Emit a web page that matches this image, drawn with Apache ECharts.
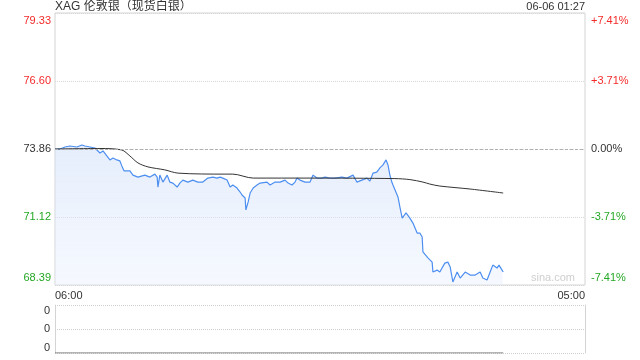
<!DOCTYPE html>
<html>
<head>
<meta charset="utf-8">
<script src="https://cdn.jsdelivr.net/npm/echarts@6/dist/echarts.min.js"></script>
<style>html,body{margin:0;padding:0;background:#fff}#c{width:640px;height:360px}</style>
</head>
<body>
<div id="c"></div>
<script>
const titleText = 'XAG 伦敦银（现货白银）';
const stampText = '06-06 01:27';
const prevClose = 73.86;
const yMin = 68.39, yMax = 79.33;
const leftLabels = ['68.39', '71.12', '73.86', '76.60', '79.33'];
const rightLabels = ['-7.41%', '-3.71%', '0.00%', '+3.71%', '+7.41%'];
const xLabels = ['06:00', '05:00'];
const volLabels = ['0', '0', '0'];

const times = [
  '06:00','06:13','06:26','06:39','06:57','07:10','07:18','07:31','07:44','07:49',
  '07:57','08:05','08:15','08:23','08:31','08:41','08:49','08:54','09:00','09:05',
  '09:15','09:23','09:28','09:36','09:54','10:07','10:20','10:26','10:28','10:33',
  '10:41','10:52','10:59','11:07','11:18','11:25','11:33','11:46','11:59','12:12',
  '12:25','12:38','12:51','13:02','13:10','13:17','13:28','13:36','13:43','13:54',
  '14:02','14:07','14:15','14:17','14:23','14:28','14:36','14:46','14:54','15:12',
  '15:20','15:33','15:46','15:59','16:07','16:17','16:25','16:30','16:38','16:51',
  '17:04','17:12','17:22','17:35','17:43','17:56','18:09','18:27','18:40','18:56',
  '19:06','19:19','19:32','19:40','19:48','19:58','20:06','20:14','20:22','20:27',
  '20:32','20:37','20:40','20:45','20:53','20:58','21:04','21:14','21:24','21:32',
  '21:43','21:50','21:56','21:58','22:11','22:22','22:24','22:35','22:42','22:55',
  '23:03','23:09','23:16','23:27','23:35','23:48','00:01','00:14','00:27','00:34',
  '00:45','00:53','01:00','01:11','01:16','01:24','01:27'
];
const prices = [
  73.86,73.86,73.94,73.98,73.94,74.02,73.98,73.94,73.90,73.82,
  73.70,73.78,73.58,73.42,73.50,73.42,73.38,73.18,72.98,73.02,
  72.98,72.81,72.77,72.73,72.81,72.73,72.85,72.73,72.33,72.81,
  72.53,72.81,72.53,72.49,72.33,72.49,72.61,72.53,72.61,72.53,
  72.53,72.69,72.73,72.69,72.73,72.69,72.61,72.33,72.41,72.29,
  72.13,72.01,71.89,71.41,71.73,72.09,72.29,72.41,72.49,72.53,
  72.41,72.53,72.53,72.61,72.49,72.41,72.53,72.69,72.61,72.53,
  72.53,72.81,72.69,72.69,72.73,72.69,72.69,72.73,72.69,72.81,
  72.53,72.61,72.69,72.57,72.89,72.93,73.10,73.22,73.42,73.22,
  72.81,72.53,72.41,72.41,71.93,71.53,71.08,71.29,71.08,70.88,
  70.48,70.48,70.32,69.72,69.48,69.31,68.91,68.99,68.91,69.27,
  69.31,69.11,68.51,68.91,68.67,68.91,68.79,68.79,68.91,68.67,
  68.59,68.91,69.19,69.07,69.19,68.99,68.91
];
const avgTimes = ['06:00','07:57','08:54','09:15','09:36','10:02','10:46','11:20','13:23','13:43',
  '14:36','17:04','20:45','21:24','21:58','22:16','22:42','00:01','01:27'];
const avgPrices = [73.86,73.88,73.82,73.58,73.30,73.14,73.02,72.89,72.85,72.85,
  72.69,72.69,72.67,72.63,72.53,72.45,72.37,72.25,72.09];
const volumes = times.map(() => 0);

function toMin(t) {
  const [h, m] = t.split(':').map(Number);
  return ((h * 60 + m) - 360 + 1440) % 1440;
}
const priceData = times.map((t, i) => [toMin(t), prices[i]]);
const avgData = avgTimes.map((t, i) => [toMin(t), avgPrices[i]]);
const volData = times.map((t, i) => [toMin(t), volumes[i]]);

const RED = '#f42a2a', GREEN = '#25a825', GRAY = '#333';
const font = '"Liberation Sans", Arial, "Noto Sans CJK SC", sans-serif';
function labColor(i) { return i > 2 ? RED : (i < 2 ? GREEN : GRAY); }

const chart = echarts.init(document.getElementById('c'), null, {renderer: 'canvas'});
chart.setOption({
  animation: false,
  textStyle: {fontFamily: font},
  grid: [
    {left: 55, right: 55, top: 13, height: 272, show: true, borderColor: '#d4d4d4', borderWidth: 1, backgroundColor: 'transparent'},
    {left: 55, right: 55, top: 305, height: 48}
  ],
  xAxis: [
    {type: 'value', gridIndex: 0, min: 0, max: 1380, interval: 1380,
     axisLine: {show: false}, axisTick: {show: false}, splitLine: {show: false},
     axisLabel: {show: true, margin: 5, fontSize: 11, color: '#333', fontFamily: font,
       alignMinLabel: 'left', alignMaxLabel: 'right',
       formatter: (v) => v === 0 ? xLabels[0] : xLabels[1]}},
    {type: 'value', gridIndex: 1, min: 0, max: 1380,
     axisLine: {show: false}, axisTick: {show: false}, splitLine: {show: false}, axisLabel: {show: false}}
  ],
  yAxis: [
    {type: 'value', gridIndex: 0, min: yMin, max: yMax, interval: (yMax - yMin) / 4,
     axisLine: {show: false}, axisTick: {show: false},
     splitLine: {show: true, lineStyle: {color: '#d8d8d8', type: 'dotted', width: 1}},
     axisLabel: {margin: 4, fontSize: 11, fontFamily: font, padding: [2, 0, 2, 0],
       verticalAlignMinLabel: 'bottom', verticalAlignMaxLabel: 'top',
       formatter: (v, i) => leftLabels[i],
       color: (v, i) => labColor(i)}},
    {type: 'value', gridIndex: 0, position: 'right', min: yMin, max: yMax, interval: (yMax - yMin) / 4,
     axisLine: {show: false}, axisTick: {show: false}, splitLine: {show: false},
     axisLabel: {margin: 6, fontSize: 11, fontFamily: font, padding: [2, 0, 2, 0],
       verticalAlignMinLabel: 'bottom', verticalAlignMaxLabel: 'top',
       formatter: (v, i) => rightLabels[i],
       color: (v, i) => labColor(i)}},
    {type: 'value', gridIndex: 1, min: 0, max: 2, interval: 1,
     axisLine: {show: true, lineStyle: {color: '#d4d4d4'}}, axisTick: {show: false},
     splitLine: {show: true, lineStyle: {color: '#cfcfcf', type: 'dotted'}},
     axisLabel: {margin: 5, fontSize: 11, color: '#333', fontFamily: font,
       verticalAlignMinLabel: 'bottom', verticalAlignMaxLabel: 'top',
       formatter: (v, i) => volLabels[i]}},
    {type: 'value', gridIndex: 1, position: 'right', min: 0, max: 2, interval: 1,
     axisLine: {show: true, lineStyle: {color: '#d4d4d4'}}, axisTick: {show: false},
     splitLine: {show: false}, axisLabel: {show: false}}
  ],
  graphic: [
    {type: 'text', x: 55, y: 7, style: {text: titleText, fill: '#333', fontSize: 12, fontFamily: font, verticalAlign: 'middle', align: 'left'}},
    {type: 'text', x: 585, y: 7, style: {text: stampText, fill: '#333', fontSize: 11, fontFamily: font, verticalAlign: 'middle', align: 'right'}},
    {type: 'text', x: 575, y: 278, style: {text: 'sina.com', fill: '#cfcfcf', fontSize: 11, fontFamily: font, verticalAlign: 'middle', align: 'right'}}
  ],
  series: [
    {type: 'line', xAxisIndex: 0, yAxisIndex: 0, data: priceData, showSymbol: false, smooth: false,
     lineStyle: {color: '#4d8ff0', width: 1.2},
     areaStyle: {origin: 'start', color: new echarts.graphic.LinearGradient(0, 0, 0, 1, [
       {offset: 0, color: 'rgba(206,222,250,0.75)'}, {offset: 1, color: 'rgba(232,240,253,0.6)'}])},
     markLine: {silent: true, symbol: 'none', label: {show: false},
       lineStyle: {color: '#b0b0b0', type: [3, 2], width: 1},
       data: [{yAxis: prevClose}]},
     z: 3},
    {type: 'line', xAxisIndex: 0, yAxisIndex: 0, data: avgData, showSymbol: false, smooth: 0.3,
     lineStyle: {color: '#333', width: 1}, z: 4},
    {type: 'line', xAxisIndex: 1, yAxisIndex: 2, data: volData, showSymbol: false,
     lineStyle: {color: '#666', width: 1}}
  ]
});
</script>
</body>
</html>
